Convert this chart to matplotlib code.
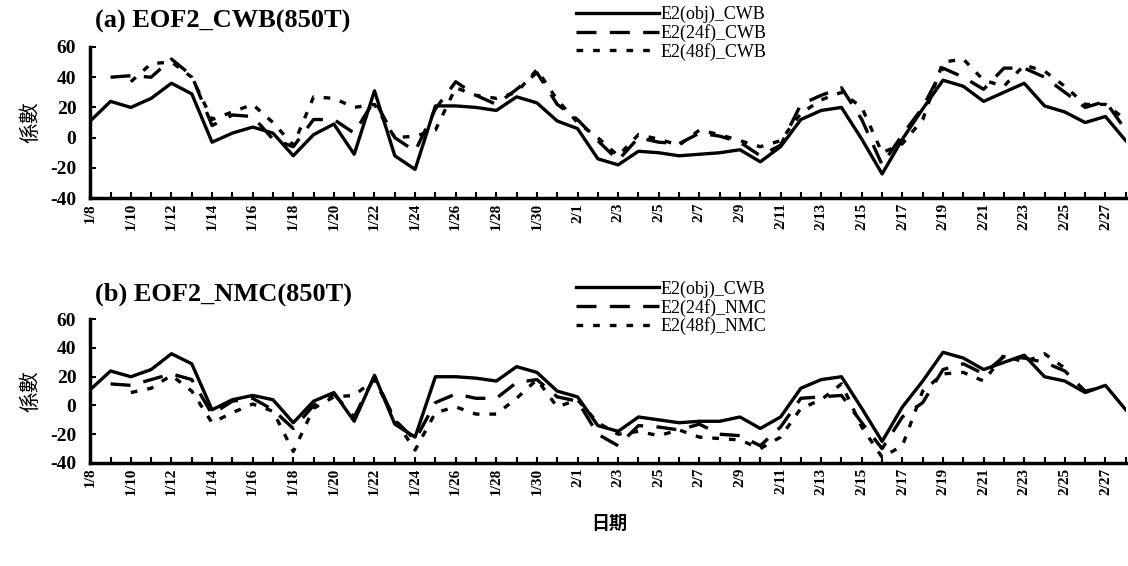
import numpy as np
import matplotlib.pyplot as plt

nan = np.nan

days = np.arange(52)  # 1/8 ... 2/28
tick_labels = ["1/8", "1/10", "1/12", "1/14", "1/16", "1/18", "1/20", "1/22", "1/24",
               "1/26", "1/28", "1/30", "2/1", "2/3", "2/5", "2/7", "2/9", "2/11",
               "2/13", "2/15", "2/17", "2/19", "2/21", "2/23", "2/25", "2/27"]

obj_a = [11, 24, 20, 26, 36, 29, -3, 3, 7, 3, -12, 2, 9, -11, 31, -12, -21, 21, 21, 20,
         18, 27, 23, 11, 6, -14, -18, -9, -10, -12, -11, -10, -8, -16, -6, 12, 18, 20,
         -1, -24, -1, 19, 38, 34, 24, 30, 36, 21, 17, 10, 14, -2]
cwb24 = [nan, 40, 41, 40, 52, 41, 8, 15, 14, -1, -6, 12, 12, 3, 25, 0, -9, 19, 37, 28,
         22, 32, 43, 22, 12, -2, -15, 0, -3, -4, 3, 1, -3, -12, -5, 22, 28, 33,
         12, -18, 2, 20, 46, 40, 32, 46, 46, 40, 30, 20, 24, 5]
cwb48 = [nan, nan, 37, 49, 50, 40, 12, 17, 22, 10, -5, 27, 26, 20, 22, 0, 1, 5, 33, 28,
         26, 30, 45, 25, 10, 0, -12, 2, -1, -5, 5, 2, -2, -6, -2, 16, 25, 30,
         20, -10, -4, 12, 50, 52, 38, 34, 48, 44, 34, 22, 22, 12]

obj_b = [11, 24, 20, 25, 36, 29, -3, 4, 7, 4, -12, 3, 9, -11, 21, -13, -22, 20, 20, 19,
         17, 27, 23, 10, 6, -14, -18, -8, -10, -12, -11, -11, -8, -16, -8, 12, 18, 20,
         -2, -25, -1, 17, 37, 33, 25, 30, 35, 20, 17, 9, 14, -3]
nmc24 = [nan, 15, 14, 18, 22, 18, -6, 3, 5, -3, -16, 0, 8, -8, 20, -10, -24, 2, 8, 5,
         5, 16, 18, 6, 3, -20, -28, -14, -15, -17, -13, -20, -21, -28, -15, 5, 6, 7,
         -12, -30, -8, 2, 25, 29, 22, 34, 33, 30, 24, 10, 13, nan]
nmc48 = [nan, nan, 9, 12, 21, 10, -12, -5, 1, -4, -32, -2, 6, 7, 18, -10, -31, -5, -1, -6,
         -6, 5, 18, -1, 4, -12, -20, -18, -21, -17, -22, -23, -24, -30, -22, -2, 4, 15,
         -15, -36, -28, 10, 22, 23, 17, 35, 30, 36, 26, nan, nan, nan]

plt.rcParams['font.family'] = ['Liberation Serif', 'Noto Sans CJK TC']
plt.rcParams['axes.unicode_minus'] = False

fig = plt.figure(figsize=(11.28, 5.66), dpi=100)
ax1 = fig.add_axes([0.080, 0.650, 0.918, 0.267])
ax2 = fig.add_axes([0.080, 0.182, 0.918, 0.254])

panels = [
    (ax1, obj_a, cwb24, cwb48, "(a) EOF2_CWB(850T)",
     ["E2(obj)_CWB", "E2(24f)_CWB", "E2(48f)_CWB"]),
    (ax2, obj_b, nmc24, nmc48, "(b) EOF2_NMC(850T)",
     ["E2(obj)_CWB", "E2(24f)_NMC", "E2(48f)_NMC"]),
]

for ax, obj, f24, f48, title, labels in panels:
    ax.plot(days, obj, color="black", lw=2.4, label=labels[0])
    ax.plot(days, f24, color="black", lw=2.4, dashes=(6, 4), label=labels[1])
    ax.plot(days, f48, color="black", lw=2.4, dashes=(2, 3), label=labels[2])
    ax.set_xlim(0, 51)
    ax.set_ylim(-40, 60)
    ax.set_yticks([-40, -20, 0, 20, 40, 60])
    ax.set_xticks(days[::2])
    ax.set_xticklabels(tick_labels, rotation=90, fontweight="bold", fontsize=11)
    ax.set_xticks(days, minor=True)
    ax.tick_params(axis="x", which="both", direction="in", length=4, width=1.5)
    ax.tick_params(axis="y", direction="in", length=4, width=1.5, labelsize=14, pad=10)
    for t in ax.get_yticklabels():
        t.set_fontweight("bold")
    for s in ["top", "right"]:
        ax.spines[s].set_visible(False)
    for s in ["left", "bottom"]:
        ax.spines[s].set_linewidth(2.5)
    ax.set_ylabel("係數", family=["Noto Sans CJK TC"], fontsize=15, labelpad=6)
    ax.text(0.005, 1.13, title, transform=ax.transAxes, fontsize=19,
            fontweight="bold", va="baseline", ha="left")
    ax.legend(loc="upper left", bbox_to_anchor=(0.462, 1.32), frameon=False,
              fontsize=13, handlelength=4.6, handletextpad=0.1, labelspacing=0.05,
              borderaxespad=0)

fig.text(0.54, 0.065, "日期", family=["Noto Sans CJK TC"], fontsize=13,
         fontweight="bold", ha="center")

fig.savefig("out.png", dpi=100)
